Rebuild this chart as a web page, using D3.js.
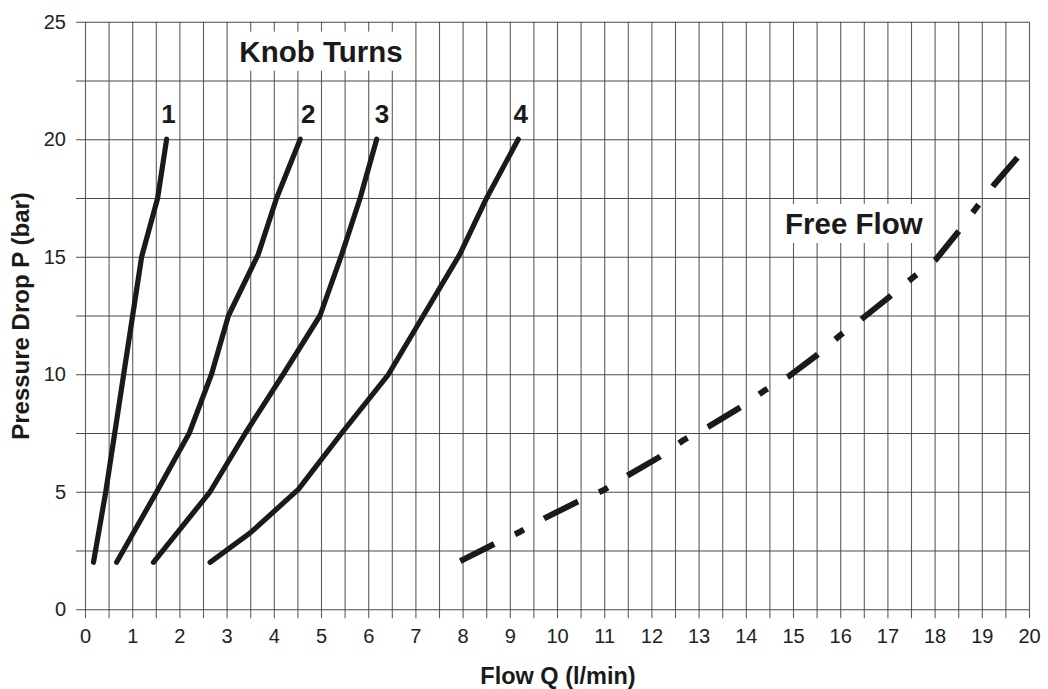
<!DOCTYPE html>
<html>
<head>
<meta charset="utf-8">
<script src="https://cdn.jsdelivr.net/npm/d3@7"></script>
<style>
  html, body { margin: 0; padding: 0; background: #fff; }
  svg { display: block; font-family: "Liberation Sans", Arial, Helvetica, sans-serif; }
</style>
</head>
<body>
<svg id="chart" width="1048" height="689"></svg>
<script>
// ---- data ----
const xTickLabels = d3.range(0, 21);          // 0..20
const yTickLabels = [0, 5, 10, 15, 20, 25];
const xGridValues = d3.range(0, 20.001, 0.5);
const yGridValues = d3.range(0, 25.001, 2.5);

const turn1 = [[0.18, 2], [0.44, 5], [1.2, 15], [1.54, 17.5], [1.73, 20]];
const turn2 = [[0.67, 2], [1.52, 5], [2.21, 7.5], [2.68, 10], [3.04, 12.5], [3.67, 15.1], [4.06, 17.5], [4.56, 20]];
const turn3 = [[1.45, 2], [2.65, 5], [3.4, 7.5], [4.2, 10], [4.98, 12.5], [5.44, 15.1], [5.83, 17.5], [6.18, 20]];
const turn4 = [[2.65, 2], [3.5, 3.25], [4.52, 5.1], [5.44, 7.5], [6.43, 10], [7.17, 12.5], [7.94, 15.1], [8.51, 17.5], [9.18, 20]];
const freeFlow = [[7.95, 2.05], [8.67, 2.78], [9.22, 3.3], [9.73, 3.87], [10.44, 4.58], [10.97, 5.05], [11.51, 5.71],
                  [12.18, 6.49], [12.68, 7.2], [13.21, 7.77], [13.89, 8.6], [14.39, 9.3], [14.9, 9.9], [15.51, 10.82],
                  [15.98, 11.63], [16.45, 12.34], [17.09, 13.37], [17.55, 14.13], [18.03, 14.89], [18.52, 16.11],
                  [18.89, 17.1], [19.26, 18.06], [19.76, 19.23]];
const turnSeries = [turn1, turn2, turn3, turn4];
const turnLabels = ["1", "2", "3", "4"];
const turnLabelPos = [[1.77, 20.68], [4.73, 20.68], [6.29, 20.68], [9.23, 20.68]];
const titleKnob = "Knob Turns";
const titleKnobPos = [5.0, 23.3];
const titleFree = "Free Flow";
const titleFreePos = [16.29, 15.97];
const xTitle = "Flow Q (l/min)";
const yTitle = "Pressure Drop P (bar)";

// ---- layout ----
const svg = d3.select("#chart");
const mLeft = 85, mRight = 1029, mTop = 21.7, mBottom = 609.3;
const x = d3.scaleLinear().domain([0, 20]).range([mLeft, mRight]);
const y = d3.scaleLinear().domain([0, 25]).range([mBottom, mTop]);

// vertical grid + ticks
const xAxis = d3.axisBottom(x)
  .tickValues(xGridValues)
  .tickSize(-(mBottom + 9 - mTop))
  .tickPadding(11)
  .tickFormat(d => Number.isInteger(d) ? d : "");
const gx = svg.append("g").attr("transform", `translate(0,${mBottom + 9})`).call(xAxis);
gx.select(".domain").remove();
gx.selectAll(".tick line").attr("stroke", "#5e5e5e").attr("stroke-width", 1.1);
gx.selectAll(".tick text").attr("fill", "#222").style("font-size", "20px")
  .style("font-family", "'Liberation Sans', Arial, sans-serif");

// horizontal grid + ticks
const yAxis = d3.axisLeft(y)
  .tickValues(yGridValues)
  .tickSize(-(mRight - (mLeft - 9)))
  .tickPadding(10)
  .tickFormat(d => yTickLabels.includes(d) ? d : "");
const gy = svg.append("g").attr("transform", `translate(${mLeft - 9},0)`).call(yAxis);
gy.select(".domain").remove();
gy.selectAll(".tick line").attr("stroke", "#4a4a4a").attr("stroke-width", 1.1);
gy.selectAll(".tick text").attr("fill", "#222").style("font-size", "20px")
  .style("font-family", "'Liberation Sans', Arial, sans-serif");

// label boxes
function boxedText(txt, pos, size, padX, padY) {
  const g = svg.append("g");
  const t = g.append("text")
    .attr("x", x(pos[0])).attr("y", y(pos[1]))
    .attr("text-anchor", "middle")
    .attr("font-weight", "bold")
    .style("font-size", size + "px")
    .attr("fill", "#1a1a1a")
    .text(txt);
  const bb = t.node().getBBox();
  g.insert("rect", "text")
    .attr("x", bb.x - padX).attr("y", bb.y - padY)
    .attr("width", bb.width + 2 * padX).attr("height", bb.height + 2 * padY)
    .attr("fill", "#fff");
}
boxedText(titleKnob, titleKnobPos, 29.5, 8, 3);
boxedText(titleFree, titleFreePos, 29.5, 9, 3);

// curves
const line = d3.line().x(d => x(d[0])).y(d => y(d[1]));
svg.append("g").selectAll("path").data(turnSeries).join("path")
  .attr("d", line)
  .attr("fill", "none")
  .attr("stroke", "#1a1a1a")
  .attr("stroke-width", 5.2)
  .attr("stroke-linecap", "round")
  .attr("stroke-linejoin", "round");

svg.append("path")
  .datum(freeFlow)
  .attr("d", line)
  .attr("fill", "none")
  .attr("stroke", "#1a1a1a")
  .attr("stroke-width", 6)
  .attr("stroke-dasharray", "38,23,10,23")
  .attr("stroke-linejoin", "round");

// turn labels
svg.append("g").selectAll("text").data(turnLabels).join("text")
  .attr("x", (d, i) => x(turnLabelPos[i][0]))
  .attr("y", (d, i) => y(turnLabelPos[i][1]))
  .attr("text-anchor", "middle")
  .attr("font-weight", "bold")
  .style("font-size", "26px")
  .attr("fill", "#1a1a1a")
  .text(d => d);

// axis titles
svg.append("text")
  .attr("x", (mLeft + mRight) / 2 + 1).attr("y", 684)
  .attr("text-anchor", "middle")
  .attr("font-weight", "bold")
  .style("font-size", "23.5px")
  .attr("fill", "#1a1a1a")
  .text(xTitle);

svg.append("text")
  .attr("transform", `translate(29,${316}) rotate(-90)`)
  .attr("text-anchor", "middle")
  .attr("font-weight", "bold")
  .style("font-size", "24px")
  .attr("fill", "#1a1a1a")
  .text(yTitle);
</script>
</body>
</html>
